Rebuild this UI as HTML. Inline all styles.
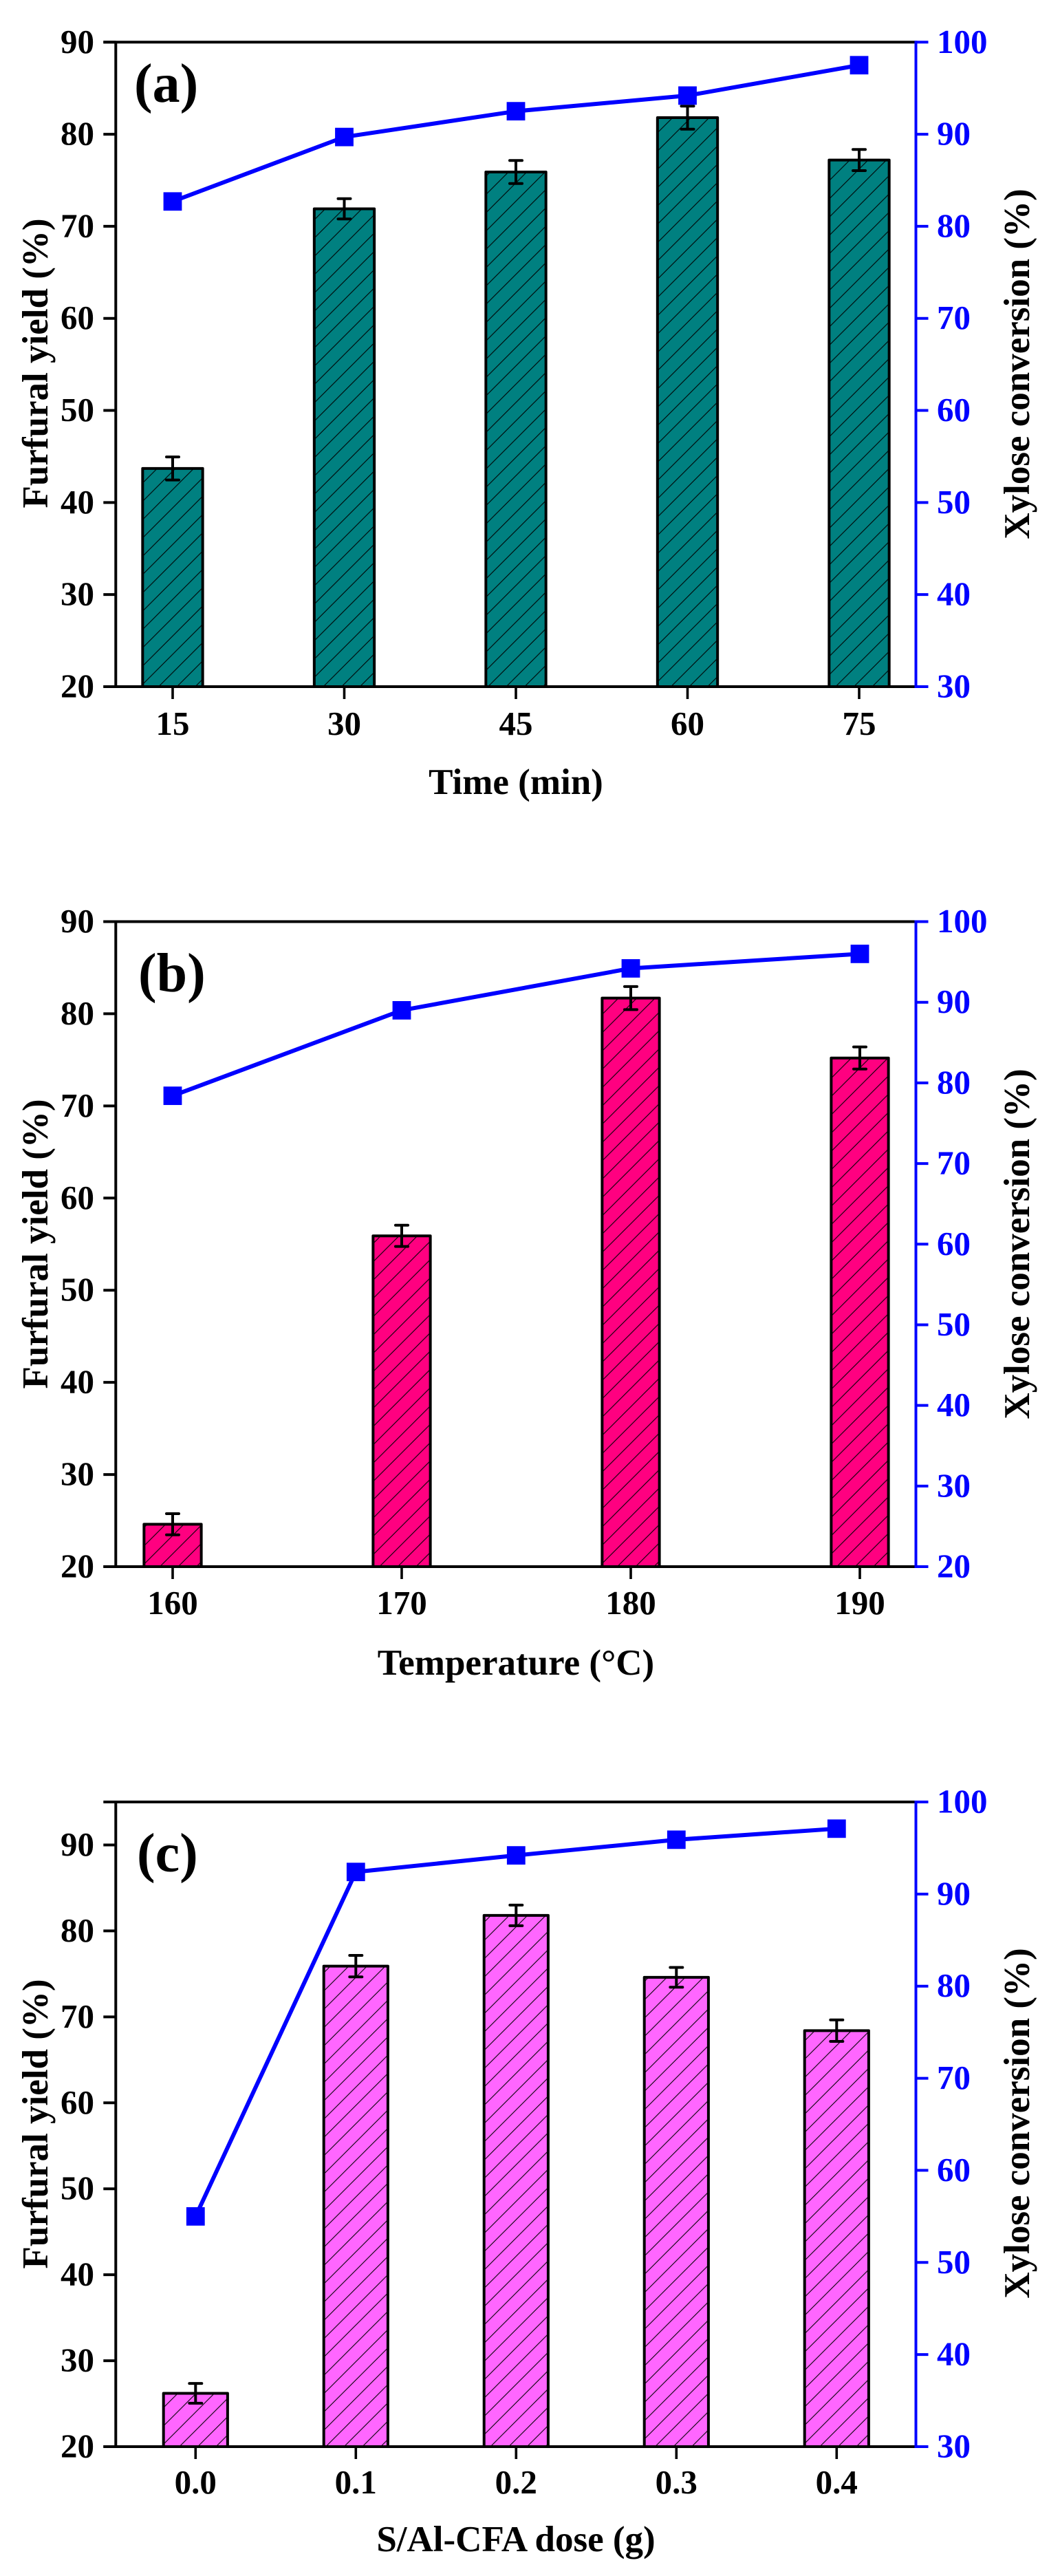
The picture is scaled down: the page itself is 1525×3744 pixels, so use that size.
<!DOCTYPE html>
<html lang="en">
<head>
<meta charset="utf-8">
<title>Furfural yield and xylose conversion</title>
<style>
html,body{margin:0;padding:0;background:#fff;}
svg{display:block;}
text{font-family:"Liberation Serif",serif;font-weight:bold;fill:#000;}
.tick{font-size:49px;}
.title{font-size:53px;}
.panel{font-size:80px;}
.blue{fill:#0000ff;}
</style>
</head>
<body>
<svg id="figure" xmlns="http://www.w3.org/2000/svg" width="1525" height="3744" viewBox="0 0 1525 3744">
  <rect width="1525" height="3744" fill="#fff"/>
  <defs>
    <pattern id="hatch-a" patternUnits="userSpaceOnUse" width="26.6" height="26.6" patternTransform="translate(5,0)">
      <rect width="26.6" height="26.6" fill="#008080"/>
      <path d="M-2,2L2,-2M0,26.6L26.6,0M24.6,28.6L28.6,24.6" stroke="#000" stroke-width="1.1"/>
    </pattern>
    <pattern id="hatch-b" patternUnits="userSpaceOnUse" width="26.6" height="26.6" patternTransform="translate(9,0)">
      <rect width="26.6" height="26.6" fill="#ff0080"/>
      <path d="M-2,2L2,-2M0,26.6L26.6,0M24.6,28.6L28.6,24.6" stroke="#000" stroke-width="1.1"/>
    </pattern>
    <pattern id="hatch-c" patternUnits="userSpaceOnUse" width="26.6" height="26.6" patternTransform="translate(13,0)">
      <rect width="26.6" height="26.6" fill="#ff66ff"/>
      <path d="M-2,2L2,-2M0,26.6L26.6,0M24.6,28.6L28.6,24.6" stroke="#000" stroke-width="1.1"/>
    </pattern>
  </defs>

  <g id="panel-a">
    <text class="title" text-anchor="middle" transform="translate(69,528) rotate(-90)">Furfural yield (%)</text>
    <text class="title" text-anchor="middle" transform="translate(1496,529) rotate(-90)">Xylose conversion (%)</text>
    <text class="title" text-anchor="middle" x="750" y="1154">Time (min)</text>
    <text class="panel" x="195" y="148">(a)</text>
  </g>
  <g id="panel-b">
    <text class="title" text-anchor="middle" transform="translate(69,1808) rotate(-90)">Furfural yield (%)</text>
    <text class="title" text-anchor="middle" transform="translate(1496,1808) rotate(-90)">Xylose conversion (%)</text>
    <text class="title" text-anchor="middle" x="750" y="2434">Temperature (°C)</text>
    <text class="panel" x="201" y="1441">(b)</text>
  </g>
  <g id="panel-c">
    <text class="title" text-anchor="middle" transform="translate(69,3087) rotate(-90)">Furfural yield (%)</text>
    <text class="title" text-anchor="middle" transform="translate(1496,3086) rotate(-90)">Xylose conversion (%)</text>
    <text class="title" text-anchor="middle" x="750" y="3708">S/Al-CFA dose (g)</text>
    <text class="panel" x="199" y="2720">(c)</text>
  </g>
</svg>
<script>
// Panel (a) data
const aCategories = ["15", "30", "45", "60", "75"];
const aYield = [43.7, 71.9, 75.9, 81.8, 77.2];
const aYieldErr = [1.25, 1.1, 1.25, 1.25, 1.15];
const aConversion = [82.7, 89.7, 92.5, 94.2, 97.5];
const aLeftTicks = [20, 30, 40, 50, 60, 70, 80, 90];
const aRightTicks = [30, 40, 50, 60, 70, 80, 90, 100];

// Panel (b) data
const bCategories = ["160", "170", "180", "190"];
const bYield = [24.6, 55.9, 81.7, 75.2];
const bYieldErr = [1.15, 1.15, 1.25, 1.2];
const bConversion = [78.4, 89.0, 94.2, 96.0];
const bLeftTicks = [20, 30, 40, 50, 60, 70, 80, 90];
const bRightTicks = [20, 30, 40, 50, 60, 70, 80, 90, 100];

// Panel (c) data
const cCategories = ["0.0", "0.1", "0.2", "0.3", "0.4"];
const cYield = [26.2, 75.9, 81.8, 74.6, 68.4];
const cYieldErr = [1.15, 1.25, 1.2, 1.15, 1.25];
const cConversion = [55.0, 92.4, 94.2, 95.9, 97.1];
const cLeftTicks = [20, 30, 40, 50, 60, 70, 80, 90];
const cRightTicks = [30, 40, 50, 60, 70, 80, 90, 100];

const SVG_NS = "http://www.w3.org/2000/svg";
const AXIS_LEFT = 168.3;
const AXIS_RIGHT = 1331.5;
const TICK_LEN = 18;

function make(tag, attrs) {
  const el = document.createElementNS(SVG_NS, tag);
  for (const k in attrs) el.setAttribute(k, attrs[k]);
  return el;
}

function drawPanel(id, top, bottom, leftMin, leftMax, rightMin, rightMax, firstX, stepX, barRatio, hatch, labelOffset,
                   categories, yieldVals, yieldErr, conversion, leftTicks, rightTicks) {
  const g = document.getElementById("panel-" + id);
  const yLeft = v => bottom - (v - leftMin) / (leftMax - leftMin) * (bottom - top);
  const yRight = v => bottom - (v - rightMin) / (rightMax - rightMin) * (bottom - top);
  const xPos = i => firstX + i * stepX;
  const barW = stepX * barRatio;

  // frame
  const topAxis = make("line", {x1: AXIS_LEFT - TICK_LEN, x2: AXIS_RIGHT, y1: top, y2: top, stroke: "#000", "stroke-width": 4});
  
  
  g.appendChild(topAxis);
  const leftAxis = make("line", {x1: AXIS_LEFT, x2: AXIS_LEFT, y1: top, y2: bottom, stroke: "#000", "stroke-width": 4});
  
  
  g.appendChild(leftAxis);

  // left ticks
  leftTicks.forEach(t => {
    const y = yLeft(t);
    const mark = make("line", {x1: AXIS_LEFT - TICK_LEN, x2: AXIS_LEFT, y1: y, y2: y, stroke: "#000", "stroke-width": 4});
    
    
    g.appendChild(mark);
    const label = make("text", {class: "tick", x: 137, y: y + 15.5, "text-anchor": "end"});
    
    
    label.textContent = t;
    g.appendChild(label);
  });

  // bars and error bars
  categories.forEach((c, i) => {
    const x = xPos(i);
    const yv = yLeft(yieldVals[i]);
    const bar = make("rect", {x: x - barW / 2, y: yv, width: barW, height: bottom - yv, fill: "url(#" + hatch + ")", stroke: "#000", "stroke-width": 4, "stroke-linejoin": "round"});
    
    
    g.appendChild(bar);

    const hi = yLeft(yieldVals[i] + yieldErr[i]);
    const lo = yLeft(yieldVals[i] - yieldErr[i]);
    const err = make("path", {
      d: "M" + x + "," + hi + "V" + lo + "M" + (x - 9) + "," + hi + "H" + (x + 9) + "M" + (x - 9) + "," + lo + "H" + (x + 9),
      fill: "none", stroke: "#000", "stroke-width": 4, "stroke-linecap": "round"
    });
    
    
    g.appendChild(err);
  });

  // bottom axis
  const bottomAxis = make("line", {x1: AXIS_LEFT - TICK_LEN, x2: AXIS_RIGHT, y1: bottom, y2: bottom, stroke: "#000", "stroke-width": 4});
  
  
  g.appendChild(bottomAxis);

  // x ticks
  categories.forEach((c, i) => {
    const x = xPos(i);
    const mark = make("line", {x1: x, x2: x, y1: bottom, y2: bottom + TICK_LEN, stroke: "#000", "stroke-width": 3.6});
    
    
    g.appendChild(mark);
    const label = make("text", {class: "tick", x: x, y: bottom + labelOffset, "text-anchor": "middle"});
    
    
    label.textContent = c;
    g.appendChild(label);
  });

  // right axis
  const rightAxis = make("line", {x1: AXIS_RIGHT, x2: AXIS_RIGHT, y1: top - 2, y2: bottom + 2, stroke: "#0000ff", "stroke-width": 4});
  
  
  g.appendChild(rightAxis);
  rightTicks.forEach(t => {
    const y = yRight(t);
    const mark = make("line", {x1: AXIS_RIGHT, x2: AXIS_RIGHT + TICK_LEN, y1: y, y2: y, stroke: "#0000ff", "stroke-width": 4});
    
    
    g.appendChild(mark);
    const label = make("text", {class: "tick blue", x: 1362, y: y + 15.5});
    
    
    label.textContent = t;
    g.appendChild(label);
  });

  // conversion line
  const pts = conversion.map((v, i) => xPos(i) + "," + yRight(v)).join(" ");
  const line = make("polyline", {points: pts, fill: "none", stroke: "#0000ff", "stroke-width": 6, "stroke-linejoin": "round"});
  
  
  g.appendChild(line);
  conversion.forEach((v, i) => {
    const m = make("rect", {x: xPos(i) - 13.4, y: yRight(v) - 13.4, width: 26.8, height: 26.8, fill: "#0000ff"});
    
    
    g.appendChild(m);
  });
}

drawPanel("a", 61.3, 998, 20, 90, 30, 100, 251, 249.5, 0.35, "hatch-a", 70,
  aCategories, aYield, aYieldErr, aConversion, aLeftTicks, aRightTicks);
drawPanel("b", 1339.5, 2277, 20, 90, 20, 100, 251, 333, 0.25, "hatch-b", 69,
  bCategories, bYield, bYieldErr, bConversion, bLeftTicks, bRightTicks);
drawPanel("c", 2619, 3556, 20, 95, 30, 100, 284.3, 233, 0.4, "hatch-c", 68,
  cCategories, cYield, cYieldErr, cConversion, cLeftTicks, cRightTicks);
</script>
</body>
</html>
